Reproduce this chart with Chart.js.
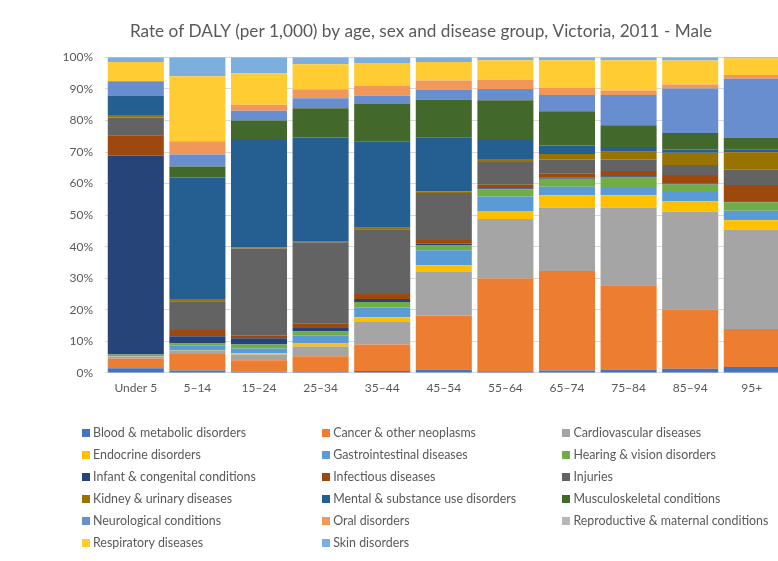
<!DOCTYPE html>
<html>
<head>
<meta charset="utf-8">
<title>Rate of DALY by age and disease group - Male</title>
<script src="https://cdn.jsdelivr.net/npm/chart.js@4.4.1/dist/chart.umd.min.js"></script>
<style>
    html, body {
        margin: 0;
        padding: 0;
        background: #ffffff;
        overflow: hidden;
    }
    #wrap {
        position: relative;
        width: 842px;
        height: 561px;
    }
    #dalyChart {
        position: absolute;
        left: 0;
        top: 0;
    }
    #dalyLegend {
        position: absolute;
        left: 82px;
        top: 422px;
        display: grid;
        grid-template-columns: 240.2px 240.2px 240.2px;
        grid-auto-rows: 21.95px;
        font-family: Lato, "Noto Sans", sans-serif;
        font-size: 12.4px;
        color: #595959;
    }
    #dalyLegend .item {
        display: flex;
        align-items: center;
        white-space: nowrap;
    }
    #dalyLegend .box {
        width: 8px;
        height: 8px;
        margin-right: 3px;
        flex: none;
    }
</style>
</head>
<body>
<div id="wrap">
    <canvas id="dalyChart" width="842" height="561"></canvas>
    <div id="dalyLegend"></div>
</div>
<script>
// Age groups along the x axis
const ageGroups = ["Under 5", "5–14", "15–24", "25–34", "35–44", "45–54", "55–64", "65–74", "75–84", "85–94", "95+"];

// Share of DALY (%) for each disease group, one value per age group
const bloodMetabolic   = [1.5, 0.8, 0.4, 0.3, 0.6, 1.0, 0.5, 0.8, 1.1, 1.3, 1.9];
const cancer           = [3.0, 5.2, 3.6, 5.0, 8.4, 17.2, 29.4, 31.5, 26.7, 18.7, 12.0];
const cardiovascular   = [0.7, 1.0, 1.8, 3.1, 7.1, 13.8, 18.9, 20.1, 24.6, 31.1, 31.6];
const endocrine        = [0.1, 0.1, 0.4, 0.9, 1.5, 2.1, 2.5, 3.9, 3.9, 3.3, 3.0];
const gastrointestinal = [0.4, 1.5, 1.5, 2.5, 3.1, 4.8, 4.6, 2.7, 2.6, 2.9, 3.0];
const hearingVision    = [0.1, 0.7, 1.3, 1.3, 1.8, 1.6, 2.3, 2.5, 3.2, 2.4, 2.7];
const infantCongenital = [63.2, 2.3, 2.0, 1.1, 0.9, 0.5, 0.3, 0.4, 0.2, 0.3, 0.3];
const infectious       = [6.4, 2.0, 0.8, 1.5, 1.6, 1.1, 1.1, 1.4, 1.7, 2.7, 5.2];
const injuries         = [5.6, 9.1, 27.6, 25.7, 20.5, 14.9, 7.2, 4.3, 3.6, 3.2, 4.8];
const kidneyUrinary    = [0.8, 0.7, 0.4, 0.2, 0.5, 0.6, 1.0, 1.8, 2.5, 3.9, 5.6];
const mentalSubstance  = [6.0, 38.5, 34.3, 33.0, 27.4, 16.9, 6.3, 2.7, 1.5, 1.0, 0.9];
const musculoskeletal  = [0.2, 3.5, 5.9, 9.3, 12.0, 12.1, 12.3, 10.8, 6.9, 5.2, 3.6];
const neurological     = [4.5, 3.8, 3.1, 3.1, 2.4, 3.2, 3.6, 5.2, 9.6, 14.1, 18.8];
const oral             = [0.1, 4.2, 1.9, 2.9, 3.1, 2.9, 2.8, 2.3, 1.4, 1.3, 1.2];
const reproductive     = [0, 0, 0, 0, 0, 0, 0, 0, 0, 0, 0];
const respiratory      = [6.0, 20.6, 9.9, 7.9, 7.3, 5.8, 6.3, 8.7, 9.6, 7.6, 5.3];
const skin             = [1.5, 6.0, 5.1, 2.2, 1.8, 1.5, 0.9, 0.9, 0.9, 1.0, 0.3];

// Y axis tick values (percent)
const percentTicks = [0, 10, 20, 30, 40, 50, 60, 70, 80, 90, 100];

const series = [
    ["Blood & metabolic disorders", bloodMetabolic, "#4472C4"],
    ["Cancer & other neoplasms", cancer, "#ED7D31"],
    ["Cardiovascular diseases", cardiovascular, "#A5A5A5"],
    ["Endocrine disorders", endocrine, "#FFC000"],
    ["Gastrointestinal diseases", gastrointestinal, "#5B9BD5"],
    ["Hearing & vision disorders", hearingVision, "#70AD47"],
    ["Infant & congenital conditions", infantCongenital, "#264478"],
    ["Infectious diseases", infectious, "#9E480E"],
    ["Injuries", injuries, "#636363"],
    ["Kidney & urinary diseases", kidneyUrinary, "#997300"],
    ["Mental & substance use disorders", mentalSubstance, "#255E91"],
    ["Musculoskeletal conditions", musculoskeletal, "#43682B"],
    ["Neurological conditions", neurological, "#698ED0"],
    ["Oral disorders", oral, "#F1975A"],
    ["Reproductive & maternal conditions", reproductive, "#B7B7B7"],
    ["Respiratory diseases", respiratory, "#FFCD33"],
    ["Skin disorders", skin, "#7CAFDD"]
];

document.addEventListener("DOMContentLoaded", function () {

    // 100% stacked: scale every age group so its segments add up to 100
    const totals = ageGroups.map(function (_, i) {
        return series.reduce(function (sum, s) { return sum + s[1][i]; }, 0);
    });

    const datasets = series.map(function (s) {
        return {
            label: s[0],
            data: s[1].map(function (v, i) { return v / totals[i] * 100; }),
            backgroundColor: s[2],
            borderWidth: 0,
            categoryPercentage: 1.0,
            barPercentage: 0.91
        };
    });

    const textColor = "#595959";
    const fontFamily = "Lato, 'Noto Sans', sans-serif";

    const chart = new Chart(document.getElementById("dalyChart"), {
        type: "bar",
        data: {
            labels: ageGroups,
            datasets: datasets
        },
        options: {
            responsive: false,
            animation: false,
            layout: {
                // plot runs a little past the right edge of the window
                padding: { left: 59.4, right: 59.4, top: 0, bottom: 157.7 }
            },
            plugins: {
                legend: { display: false },
                tooltip: { enabled: false },
                title: {
                    display: true,
                    text: "Rate of DALY (per 1,000) by age, sex and disease group, Victoria, 2011 - Male",
                    color: textColor,
                    font: { family: fontFamily, size: 17.2, weight: "normal" },
                    padding: { top: 20.7, bottom: 16 }
                }
            },
            scales: {
                x: {
                    stacked: true,
                    grid: { display: false, drawTicks: false },
                    border: { display: false },
                    ticks: {
                        color: textColor,
                        font: { family: fontFamily, size: 12 },
                        padding: 8,
                        maxRotation: 0
                    }
                },
                y: {
                    stacked: true,
                    min: 0,
                    max: 100,
                    afterFit: function (scale) { scale.width = 45.6; },
                    afterBuildTicks: function (scale) {
                        scale.ticks = percentTicks.map(function (v) { return { value: v }; });
                    },
                    grid: { color: "#d9d9d9", lineWidth: 1, drawTicks: false },
                    border: { display: false },
                    ticks: {
                        color: textColor,
                        font: { family: fontFamily, size: 12 },
                        padding: 12,
                        callback: function (value) { return value + "%"; }
                    }
                }
            }
        }
    });

    // Three-column legend built from the chart's datasets
    const legend = document.getElementById("dalyLegend");
    chart.data.datasets.forEach(function (ds) {
        const item = document.createElement("div");
        item.className = "item";
        const box = document.createElement("span");
        box.className = "box";
        box.style.background = ds.backgroundColor;
        const label = document.createElement("span");
        label.textContent = ds.label;
        item.appendChild(box);
        item.appendChild(label);
        legend.appendChild(item);
    });

});
</script>
</body>
</html>
